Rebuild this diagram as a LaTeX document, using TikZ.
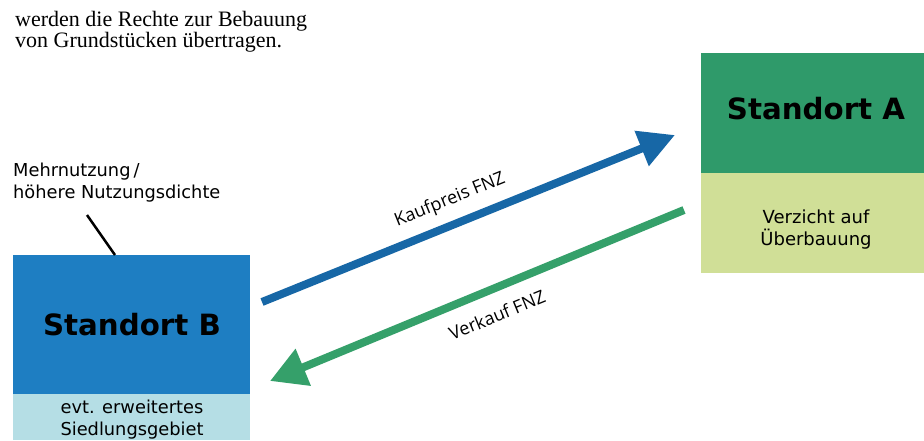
\documentclass[tikz,border=0pt]{standalone}
\usepackage{fontspec}
\setmainfont{Liberation Serif}
\newfontfamily\boxfont{DejaVu Sans}
\newfontfamily\arrfont{Open Sans}
\usetikzlibrary{arrows.meta}
\definecolor{boxblue}{HTML}{1E7EC2}
\definecolor{boxlightblue}{HTML}{B5DEE5}
\definecolor{boxgreen}{HTML}{2F9A6A}
\definecolor{boxlightgreen}{HTML}{D0DF97}
\definecolor{arrblue}{HTML}{1767A6}
\definecolor{arrgreen}{HTML}{35A06A}
\begin{document}
\begin{tikzpicture}[x=1pt,y=-1pt,
  area/.style={anchor=north west, inner sep=0pt, outer sep=0pt, draw=none},
  title/.style={font=\boxfont\bfseries\fontsize{29.3}{32}\selectfont, inner sep=0pt},
  small/.style={font=\boxfont\fontsize{17.8}{21.5}\selectfont, align=center, inner sep=0pt},
  lbl/.style={font=\arrfont\fontsize{18}{20}\selectfont, inner sep=0pt},
  fat/.style={line width=8pt}
]
\useasboundingbox (0,0) rectangle (924,440);
\fill[white] (0,0) rectangle (924,440);

% top text (base anchor = last line)
\node[anchor=base west, inner sep=0pt, align=left, font=\fontsize{22}{20.5}\selectfont] (intro) at (15,47)
  {werden die Rechte zur Bebauung\\von Grundstücken übertragen.};

% Standort A
\node[area, fill=boxgreen, minimum width=223pt, minimum height=120pt] (Atop) at (701,53) {};
\node[area, fill=boxlightgreen, minimum width=223pt, minimum height=100pt] (Abot) at (701,173) {};
\node[title, anchor=base] (Atitle) at (816,119) {Standort A};
\node[small, anchor=base, font=\boxfont\fontsize{18}{22}\selectfont] (Atext) at (816,245) {Verzicht auf\\Überbauung};

% Standort B
\node[area, fill=boxblue, minimum width=237pt, minimum height=139pt] (Btop) at (13,255) {};
\node[area, fill=boxlightblue, minimum width=237pt, minimum height=46pt] (Bbot) at (13,394) {};
\node[title, anchor=base] (Btitle) at (132,335) {Standort B};
\node[small, anchor=base] (Btext) at (132,435) {evt. erweitertes\\Siedlungsgebiet};

% annotation
\node[small, align=left, anchor=base west] (note) at (13,198) {Mehrnutzung\,/\\höhere Nutzungsdichte};
\coordinate (noteEnd) at (87,215);
\coordinate (Bpin) at (115,255);
\draw[line width=2.5pt] (noteEnd) -- (Bpin);

% arrows
\coordinate (k1) at (262,302);
\coordinate (k2) at (675,135);
\coordinate (v1) at (684,210);
\coordinate (v2) at (270,381);
\draw[fat, arrblue, -{Triangle[length=36pt,width=36pt]}] (k1) -- (k2);
\draw[fat, arrgreen, -{Triangle[length=36pt,width=38pt]}] (v1) -- (v2);

\node[lbl, rotate=22] (kauf) at (450,200) {Kaufpreis FNZ};
\node[lbl, rotate=22.4] (verk) at (497,315) {Verkauf FNZ};
\end{tikzpicture}
\end{document}
